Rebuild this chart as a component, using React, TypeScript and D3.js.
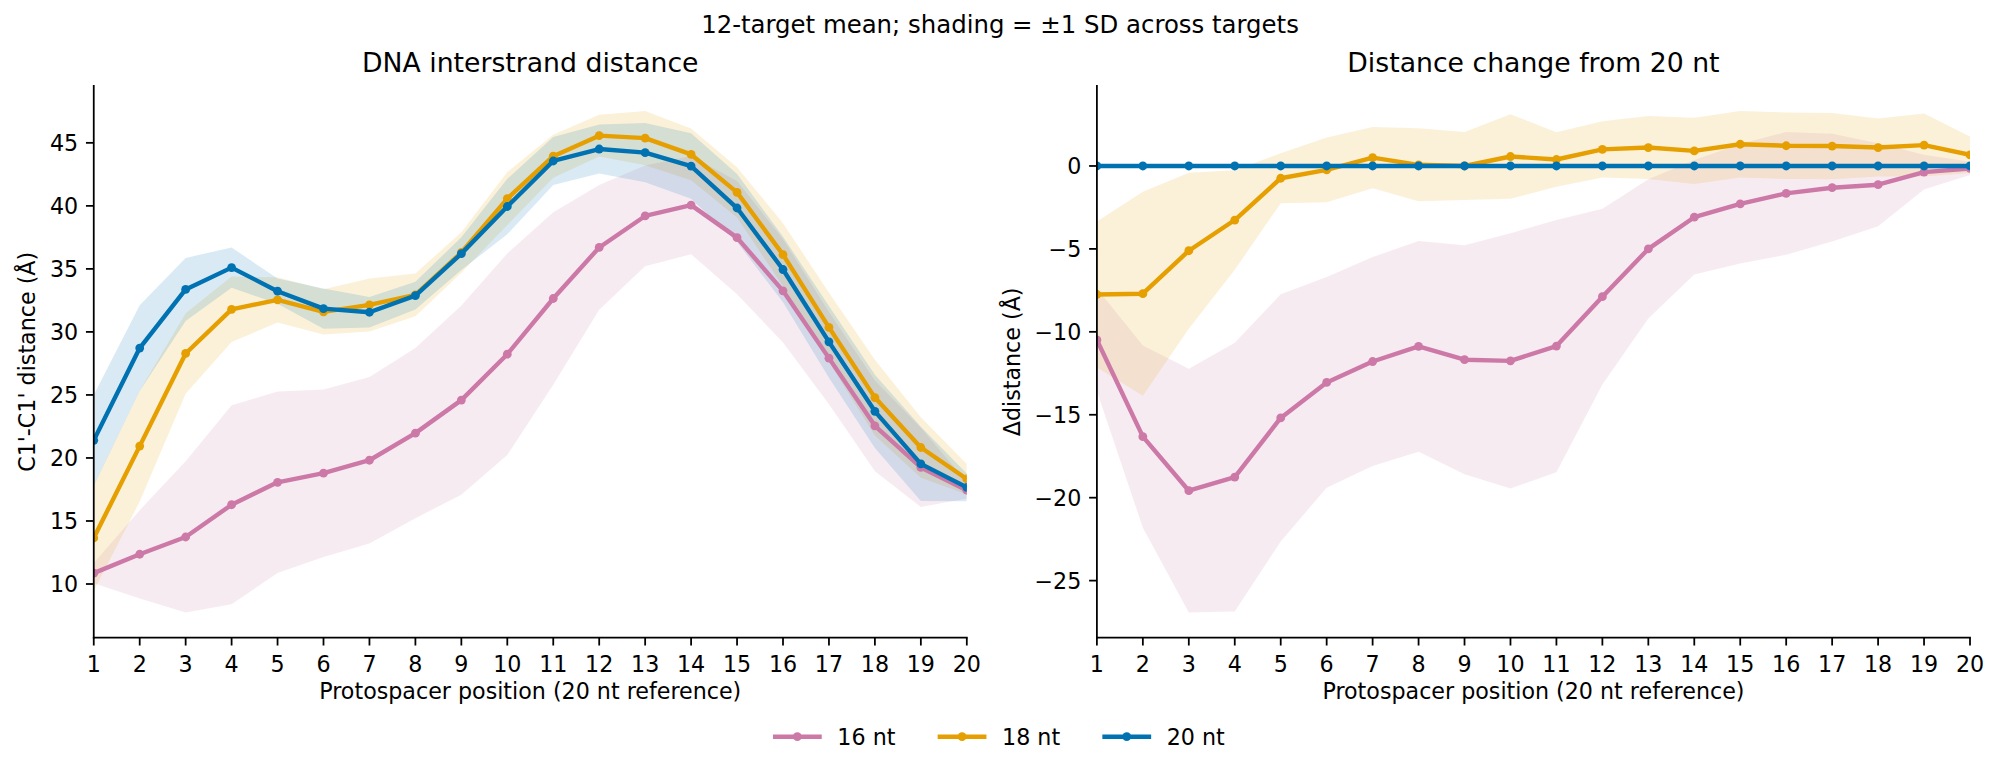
import React from 'react';
import * as d3 from 'd3';

// ---------- data ----------
const positions = [1, 2, 3, 4, 5, 6, 7, 8, 9, 10, 11, 12, 13, 14, 15, 16, 17, 18, 19, 20];
const xTickLabels = ['1', '2', '3', '4', '5', '6', '7', '8', '9', '10', '11', '12', '13', '14', '15', '16', '17', '18', '19', '20'];
const seriesLabels = ['16 nt', '18 nt', '20 nt'];
const seriesColors = ['#CC79A7', '#E69F00', '#0072B2'];

// Left panel: C1'-C1' distance (Å), mean and SD
const dist16 = [10.86, 12.36, 13.73, 16.29, 18.07, 18.79, 19.82, 21.97, 24.59, 28.23, 32.65, 36.7, 39.2, 40.06, 37.48, 33.26, 27.92, 22.55, 19.25, 17.44];
const dist16Sd = [0.8, 3.5, 6.0, 7.9, 7.2, 6.65, 6.6, 6.75, 7.5, 8.0, 6.85, 4.95, 4.0, 3.9, 4.5, 4.1, 3.65, 3.6, 3.15, 0.65];
const dist18 = [13.65, 20.94, 28.29, 31.79, 32.54, 31.59, 32.14, 32.94, 36.3, 40.58, 43.94, 45.57, 45.37, 44.08, 41.07, 36.13, 30.36, 24.79, 20.83, 18.33];
const dist18Sd = [4.2, 4.4, 3.2, 2.6, 1.8, 1.8, 2.1, 1.7, 1.6, 2.1, 1.7, 1.65, 2.15, 2.05, 2.0, 2.5, 2.75, 3.0, 2.4, 1.2];
const dist20 = [21.4, 28.72, 33.37, 35.1, 33.23, 31.85, 31.56, 32.88, 36.21, 39.95, 43.56, 44.51, 44.22, 43.16, 39.83, 34.95, 29.21, 23.7, 19.53, 17.67];
const dist20Sd = [3.6, 3.4, 2.5, 1.6, 1.0, 1.6, 1.2, 1.1, 1.3, 2.2, 1.9, 1.95, 2.35, 2.6, 2.7, 2.6, 2.85, 2.9, 2.95, 1.1];

// Right panel: change from 20 nt (Å), mean and SD
const delta16 = [-10.49, -16.32, -19.58, -18.76, -15.19, -13.05, -11.79, -10.88, -11.68, -11.75, -10.86, -7.88, -5.0, -3.09, -2.28, -1.65, -1.31, -1.13, -0.37, -0.15];
const delta16Sd = [3.1, 5.5, 7.35, 8.1, 7.45, 6.35, 6.3, 6.35, 6.9, 7.7, 7.6, 5.3, 4.2, 3.45, 3.6, 3.7, 3.25, 2.5, 1.05, 0.4];
const delta18 = [-7.75, -7.7, -5.11, -3.26, -0.74, -0.24, 0.5, 0.07, 0.0, 0.57, 0.39, 1.0, 1.11, 0.91, 1.31, 1.22, 1.2, 1.11, 1.26, 0.67];
const delta18Sd = [4.4, 6.15, 4.7, 3.0, 1.5, 1.95, 1.85, 2.2, 2.05, 2.55, 1.65, 1.7, 1.9, 2.0, 2.0, 2.0, 2.0, 1.75, 1.9, 1.1];
const delta20 = [0, 0, 0, 0, 0, 0, 0, 0, 0, 0, 0, 0, 0, 0, 0, 0, 0, 0, 0, 0];
const delta20Sd = [0, 0, 0, 0, 0, 0, 0, 0, 0, 0, 0, 0, 0, 0, 0, 0, 0, 0, 0, 0];

const leftYTicks = [10, 15, 20, 25, 30, 35, 40, 45];
const rightYTicks = [-25, -20, -15, -10, -5, 0];

const suptitle = '12-target mean; shading = \u00b11 SD across targets';
const leftTitle = 'DNA interstrand distance';
const rightTitle = 'Distance change from 20 nt';
const leftYLabel = "C1'-C1' distance (\u00c5)";
const rightYLabel = '\u0394distance (\u00c5)';
const xLabel = 'Protospacer position (20 nt reference)';

// ---------- layout ----------
const W = 2000;
const H = 773;
const FONT = '"DejaVu Sans", Verdana, sans-serif';
const TICK_FS = 22.2;
const LABEL_FS = 22.2;
const TITLE_FS = 26.7;
const SUPTITLE_FS = 24.4;
const LW = 4.4;
const MR = 4.4;
const SPINE_W = 1.78;
const TICK_LEN = 7.8;
const TICK_PAD = 7.8;
const BAND_ALPHA = 0.15;

type Axes = { x0: number; x1: number; y0: number; y1: number };
type Series = { label: string; color: string; mean: number[]; sd: number[] };

const leftAxes: Axes = { x0: 93.75, x1: 966.8, y0: 86, y1: 637.7 };
const rightAxes: Axes = { x0: 1096.9, x1: 1970, y0: 86, y1: 637.7 };

const fmt = (v: number) => (v < 0 ? '\u2212' + Math.abs(v) : String(v));

function Panel(props: {
  id: string;
  ax: Axes;
  series: Series[];
  yTicks: number[];
  title: string;
  ylabel: string;
  ylabelX: number;
}) {
  const { id, ax, series, yTicks, title, ylabel, ylabelX } = props;
  const x = d3.scaleLinear().domain([positions[0], positions[positions.length - 1]]).range([ax.x0, ax.x1]);
  const lo = d3.min(series, (s) => d3.min(s.mean, (m, i) => m - s.sd[i]) as number) as number;
  const hi = d3.max(series, (s) => d3.max(s.mean, (m, i) => m + s.sd[i]) as number) as number;
  const pad = 0.05 * (hi - lo);
  const y = d3.scaleLinear().domain([lo - pad, hi + pad]).range([ax.y1, ax.y0]);

  const cx = (ax.x0 + ax.x1) / 2;
  const cy = (ax.y0 + ax.y1) / 2;

  return (
    <g>
      <defs>
        <clipPath id={id}>
          <rect x={ax.x0} y={ax.y0} width={ax.x1 - ax.x0} height={ax.y1 - ax.y0} />
        </clipPath>
      </defs>
      <g clipPath={`url(#${id})`}>
        {series.map((s) => {
          const area = d3
            .area<number>()
            .x((_, i) => x(positions[i]))
            .y0((m, i) => y(m - s.sd[i]))
            .y1((m, i) => y(m + s.sd[i]));
          return <path key={'b' + s.label} d={area(s.mean) || ''} fill={s.color} fillOpacity={BAND_ALPHA} stroke="none" />;
        })}
        {series.map((s) => {
          const line = d3
            .line<number>()
            .x((_, i) => x(positions[i]))
            .y((m) => y(m));
          return (
            <g key={'l' + s.label}>
              <path d={line(s.mean) || ''} fill="none" stroke={s.color} strokeWidth={LW} strokeLinejoin="round" />
              {s.mean.map((m, i) => (
                <circle key={i} cx={x(positions[i])} cy={y(m)} r={MR} fill={s.color} />
              ))}
            </g>
          );
        })}
      </g>
      {/* spines */}
      <line x1={ax.x0} x2={ax.x0} y1={ax.y0} y2={ax.y1} stroke="#000" strokeWidth={SPINE_W} strokeLinecap="square" />
      <line x1={ax.x0} x2={ax.x1} y1={ax.y1} y2={ax.y1} stroke="#000" strokeWidth={SPINE_W} strokeLinecap="square" />
      {/* x ticks */}
      {positions.map((p, i) => (
        <g key={'xt' + p}>
          <line x1={x(p)} x2={x(p)} y1={ax.y1} y2={ax.y1 + TICK_LEN} stroke="#000" strokeWidth={SPINE_W} />
          <text x={x(p)} y={ax.y1 + TICK_LEN + TICK_PAD + 18.7} textAnchor="middle" fontSize={TICK_FS} fontFamily={FONT} fill="#000">
            {xTickLabels[i]}
          </text>
        </g>
      ))}
      {/* y ticks */}
      {yTicks.map((t) => (
        <g key={'yt' + t}>
          <line x1={ax.x0 - TICK_LEN} x2={ax.x0} y1={y(t)} y2={y(t)} stroke="#000" strokeWidth={SPINE_W} />
          <text x={ax.x0 - TICK_LEN - TICK_PAD} y={y(t) + 8.1} textAnchor="end" fontSize={TICK_FS} fontFamily={FONT} fill="#000">
            {fmt(t)}
          </text>
        </g>
      ))}
      <text x={cx} y={ax.y1 + 61.5} textAnchor="middle" fontSize={LABEL_FS} fontFamily={FONT} fill="#000">
        {xLabel}
      </text>
      <text
        transform={`translate(${ylabelX},${cy}) rotate(-90)`}
        textAnchor="middle"
        fontSize={LABEL_FS}
        fontFamily={FONT}
        fill="#000"
      >
        {ylabel}
      </text>
      <text x={cx} y={ax.y0 - 14.3} textAnchor="middle" fontSize={TITLE_FS} fontFamily={FONT} fill="#000">
        {title}
      </text>
    </g>
  );
}

function Legend(props: { series: Series[] }) {
  const handleLen = 44.4;
  const textPad = 17.8;
  const colSpace = 44.4;
  const textW = 58.1;
  const itemW = handleLen + textPad + textW;
  const total = props.series.length * itemW + (props.series.length - 1) * colSpace;
  const start = W / 2 - total / 2;
  const yc = 736.7;
  return (
    <g>
      {props.series.map((s, i) => {
        const x0 = start + i * (itemW + colSpace);
        return (
          <g key={s.label}>
            <line x1={x0} x2={x0 + handleLen} y1={yc} y2={yc} stroke={s.color} strokeWidth={LW} strokeLinecap="square" />
            <circle cx={x0 + handleLen / 2} cy={yc} r={MR} fill={s.color} />
            <text x={x0 + handleLen + textPad} y={yc + 8.1} fontSize={LABEL_FS} fontFamily={FONT} fill="#000">
              {s.label}
            </text>
          </g>
        );
      })}
    </g>
  );
}

export default function App() {
  const leftSeries: Series[] = [
    { label: seriesLabels[0], color: seriesColors[0], mean: dist16, sd: dist16Sd },
    { label: seriesLabels[1], color: seriesColors[1], mean: dist18, sd: dist18Sd },
    { label: seriesLabels[2], color: seriesColors[2], mean: dist20, sd: dist20Sd },
  ];
  const rightSeries: Series[] = [
    { label: seriesLabels[0], color: seriesColors[0], mean: delta16, sd: delta16Sd },
    { label: seriesLabels[1], color: seriesColors[1], mean: delta18, sd: delta18Sd },
    { label: seriesLabels[2], color: seriesColors[2], mean: delta20, sd: delta20Sd },
  ];
  return (
    <svg
      width={W}
      height={H}
      viewBox={`0 0 ${W} ${H}`}
      style={{ position: 'absolute', left: 0, top: 0, background: '#fff' }}
    >
      <rect x={0} y={0} width={W} height={H} fill="#fff" />
      <text x={W / 2} y={33.3} textAnchor="middle" fontSize={SUPTITLE_FS} fontFamily={FONT} fill="#000">
        {suptitle}
      </text>
      <Panel id="clipL" ax={leftAxes} series={leftSeries} yTicks={leftYTicks} title={leftTitle} ylabel={leftYLabel} ylabelX={35} />
      <Panel id="clipR" ax={rightAxes} series={rightSeries} yTicks={rightYTicks} title={rightTitle} ylabel={rightYLabel} ylabelX={1020} />
      <Legend series={leftSeries} />
    </svg>
  );
}
